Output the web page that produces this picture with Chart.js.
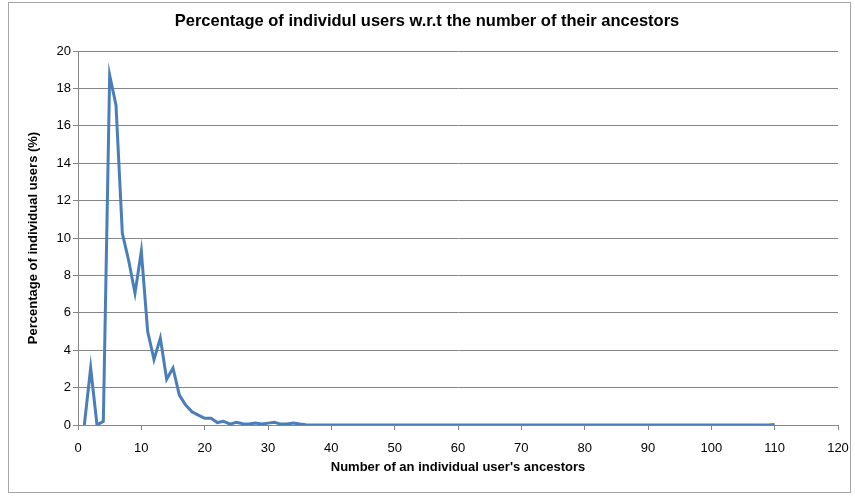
<!DOCTYPE html>
<html lang="en">
<head>
  <meta charset="UTF-8" />
  <title>Percentage of individual users</title>
  <script src="https://cdn.jsdelivr.net/npm/chart.js"></script>
  <style>
    body { margin: 0; background: #fff; }
    #wrap { position: relative; width: 855px; height: 496px; }
    #frame { position: absolute; left: 8px; top: 2px; width: 843px; height: 491px; border: 1px solid #a6a6a6; box-sizing: border-box; pointer-events: none; }
  </style>
</head>
<body>
  <div id="wrap">
    <canvas id="chart" width="855" height="496"></canvas>
    <div id="frame"></div>
  </div>
  <script>
    // percentage of users for 1, 2, 3 ... 110 ancestors
    const firstAncestorCount = 1;
    const percentages = [
      0, 3.05, 0, 0.2, 18.7, 17.1, 10.25, 8.8, 7.05, 9.3,
      5.0, 3.5, 4.65, 2.45, 3.05, 1.6, 1.07, 0.71, 0.53, 0.36,
      0.36, 0.13, 0.2, 0.05, 0.15, 0.07, 0.05, 0.1, 0.05, 0.1,
      0.15, 0.05, 0.05, 0.1, 0.05, 0.02, 0, 0, 0, 0,
      0, 0, 0, 0, 0, 0, 0, 0, 0, 0,
      0, 0, 0, 0, 0, 0, 0, 0, 0, 0,
      0, 0, 0, 0, 0, 0, 0, 0, 0, 0,
      0, 0, 0, 0, 0, 0, 0, 0, 0, 0,
      0, 0, 0, 0, 0, 0, 0, 0, 0, 0,
      0, 0, 0, 0, 0, 0, 0, 0, 0, 0,
      0, 0, 0, 0, 0, 0, 0, 0, 0, 0.03
    ];
    const xMin = 0, xMax = 120, xStep = 10;
    const yMin = 0, yMax = 20, yStep = 2;

    const points = percentages.map((v, i) => ({ x: firstAncestorCount + i, y: v }));
    const font = 'Liberation Sans, Arial, sans-serif';

    new Chart(document.getElementById('chart'), {
      type: 'line',
      data: {
        datasets: [{
          data: points,
          borderColor: '#4a7ebb',
          borderWidth: 3,
          pointRadius: 0,
          tension: 0,
          fill: false
        }]
      },
      options: {
        responsive: false,
        animation: false,
        layout: { padding: { left: 16, right: 17, top: 0, bottom: 0 } },
        plugins: {
          legend: { display: false },
          tooltip: { enabled: false },
          title: {
            display: true,
            text: 'Percentage of individul users w.r.t the number of their ancestors',
            color: '#000',
            font: { family: font, size: 16.5, weight: 'bold' },
            padding: { top: 12, bottom: 19.2 }
          }
        },
        scales: {
          x: {
            type: 'linear',
            min: xMin, max: xMax,
            afterFit: s => { s.height = 71; s.paddingRight = 0; s.paddingLeft = 0; },
            ticks: { stepSize: xStep, color: '#000', font: { family: font, size: 13 }, padding: 11, maxRotation: 0 },
            grid: { drawOnChartArea: false, drawTicks: true, tickLength: 5, color: '#868686' },
            border: { display: true, color: '#868686' },
            title: {
              display: true,
              text: "Number of an individual user's ancestors",
              color: '#000',
              font: { family: font, size: 13, weight: 'bold' },
              padding: { top: 4, bottom: 21 }
            }
          },
          y: {
            min: yMin, max: yMax,
            afterFit: s => { s.width = 62; },
            ticks: { stepSize: yStep, color: '#000', font: { family: font, size: 13 }, padding: 2 },
            grid: { color: '#868686', tickLength: 5 },
            border: { display: true, color: '#868686' },
            title: {
              display: true,
              text: 'Percentage of individual users (%)',
              color: '#000',
              font: { family: font, size: 13, weight: 'bold' },
              padding: { top: 10, bottom: 0 }
            }
          }
        }
      }
    });
  </script>
</body>
</html>
